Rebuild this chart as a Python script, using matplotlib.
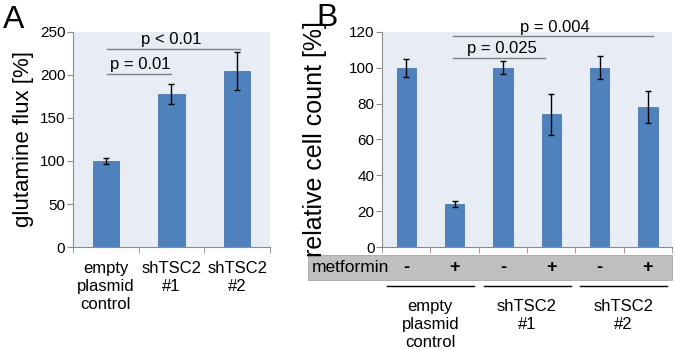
import matplotlib.pyplot as plt
import matplotlib.transforms as mtransforms
from matplotlib.patches import Rectangle
import numpy as np

plt.rcParams['font.family'] = ['Liberation Sans', 'DejaVu Sans']

# panel A data
a_labels = ['empty\nplasmid\ncontrol', 'shTSC2\n#1', 'shTSC2\n#2']
a_vals = [100, 178, 205]
a_err = [3, 12, 22]

# panel B data
b_vals = [100, 24, 100, 74, 100, 78]
b_err = [5, 1.5, 3.5, 11.5, 6.5, 9]
b_metformin = ['-', '+', '-', '+', '-', '+']
b_groups = ['empty\nplasmid\ncontrol', 'shTSC2\n#1', 'shTSC2\n#2']

bar_col = '#4f81bd'
bg_col = '#e7ecf5'
spine_col = '#8c8c8c'


def style_axes(ax, n):
    ax.set_facecolor(bg_col)
    for s in ['top', 'right']:
        ax.spines[s].set_visible(False)
    for s in ['left', 'bottom']:
        ax.spines[s].set_color(spine_col)
        ax.spines[s].set_linewidth(0.8)
    ax.set_xlim(-0.5, n - 0.5)
    ax.set_xticks(np.arange(n + 1) - 0.5, minor=True)
    ax.tick_params(axis='x', which='minor', length=4, color=spine_col, direction='out')
    ax.tick_params(axis='x', which='major', length=0)
    ax.tick_params(axis='y', length=4, color=spine_col, labelsize=11, direction='out', pad=1.5)


fig = plt.figure(figsize=(6.75, 3.5), dpi=100)

#panel A
#########
ax0 = fig.add_axes([0.108, 0.294, 0.292, 0.615])
x0 = np.arange(len(a_vals))
ax0.bar(x0, a_vals, width=0.4, color=bar_col, edgecolor='#3f6ea6', linewidth=0.5, zorder=2)
ax0.errorbar(x0, a_vals, yerr=a_err, fmt='none', ecolor='black', elinewidth=1, capsize=2, capthick=1, zorder=3)
style_axes(ax0, len(a_vals))
ax0.set_ylim(0, 250)
ax0.set_yticks([0, 50, 100, 150, 200, 250])
ax0.set_xticks(x0)
ax0.set_xticklabels(a_labels, fontsize=12, linespacing=1.25)
ax0.tick_params(axis='x', which='major', pad=10)
ax0.set_ylabel('glutamine flux [%]', fontsize=16, labelpad=4)

# significance
ax0.plot([0.02, 1.0], [201, 201], color='#808080', lw=1, clip_on=False)
ax0.text(0.52, 203, 'p = 0.01', ha='center', va='bottom', fontsize=12)
ax0.plot([0.02, 2.05], [230, 230], color='#808080', lw=1, clip_on=False)
ax0.text(0.99, 232, 'p < 0.01', ha='center', va='bottom', fontsize=12)

fig.text(0.005, 0.985, 'A', fontsize=23, va='top', ha='left')

#panel B
#########
ax1 = fig.add_axes([0.566, 0.294, 0.4296, 0.615])
x1 = np.arange(len(b_vals))
ax1.bar(x1, b_vals, width=0.4, color=bar_col, edgecolor='#3f6ea6', linewidth=0.5, zorder=2)
ax1.errorbar(x1, b_vals, yerr=b_err, fmt='none', ecolor='black', elinewidth=1, capsize=2, capthick=1, zorder=3)
style_axes(ax1, len(b_vals))
ax1.set_ylim(0, 120)
ax1.set_yticks([0, 20, 40, 60, 80, 100, 120])
ax1.set_xticks([])
ax1.set_ylabel('relative cell count [%]', fontsize=18, labelpad=16)

ax1.plot([0.96, 2.87], [105.3, 105.3], color='#808080', lw=1, clip_on=False)
ax1.text(1.98, 106.3, 'p = 0.025', ha='center', va='bottom', fontsize=12)
ax1.plot([0.96, 5.1], [117.7, 117.7], color='#808080', lw=1, clip_on=False)
ax1.text(3.08, 118.5, 'p = 0.004', ha='center', va='bottom', fontsize=12)

fig.text(0.468, 0.99, 'B', fontsize=23, va='top', ha='left')

# metformin row and group labels
trans = mtransforms.blended_transform_factory(ax1.transData, ax1.transAxes)
ax1.add_patch(Rectangle((-2.03, -0.153), 7.53, 0.116, transform=trans,
                        facecolor='#bfbfbf', edgecolor='#a6a6a6', lw=0.6, clip_on=False))
ax1.text(-1.95, -0.095, 'metformin', transform=trans, ha='left', va='center', fontsize=12.5)
for xi, s in zip(x1, b_metformin):
    ax1.text(xi, -0.095, s, transform=trans, ha='center', va='center',
             fontsize=13, fontweight='bold')

for gi, g in enumerate(b_groups):
    c = 2 * gi + 0.5
    ax1.plot([c - 0.9, c + 0.9], [-0.181, -0.181], transform=trans, color='black', lw=1, clip_on=False)
    ax1.text(c, -0.24, g, transform=trans, ha='center', va='top', fontsize=12, linespacing=1.28)

fig.savefig('out.png', dpi=100)
